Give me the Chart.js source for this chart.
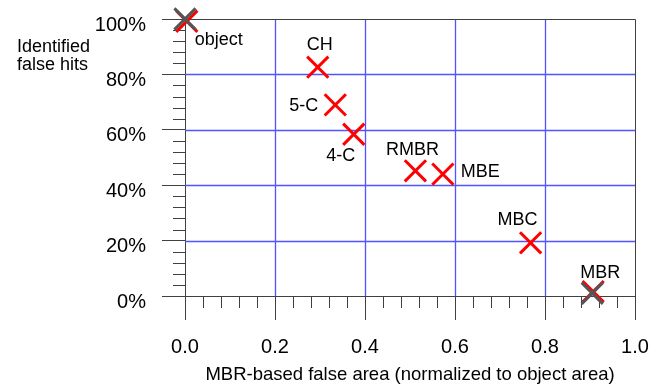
<!DOCTYPE html>
<html>
<head>
<meta charset="utf-8">
<script src="https://cdn.jsdelivr.net/npm/chart.js@4.4.1/dist/chart.umd.min.js"></script>
<style>
  html, body { margin: 0; background: #fff; }
  canvas { display: block; }
</style>
</head>
<body>
<canvas id="chart-hits" width="665" height="385"></canvas>
<script>
// ── Data ──────────────────────────────────────────────
const methods   = ['object', 'CH', '5-C', '4-C', 'RMBR', 'MBE', 'MBC', 'MBR'];
const falseArea = [0.004, 0.295, 0.334, 0.375, 0.512, 0.573, 0.768, 0.907];
const falseHits = [99.2, 82.6, 69.0, 58.4, 45.2, 44.0, 19.2, 1.6];

// grey reference marks (exact object / plain MBR)
const refArea = [0.0, 0.905];
const refHits = [100, 1.0];

const xTickLabels = ['0.0', '0.2', '0.4', '0.6', '0.8', '1.0'];
const yTickLabels = ['0%', '20%', '40%', '60%', '80%', '100%'];

// ── Styling ───────────────────────────────────────────
const FONT = '"Liberation Sans", Arial, sans-serif';
const AXIS = '#404040';
const GRID = '#5252ff';
const RED = '#ff0000';
const GREY = '#555555';

// label placement relative to each red mark: [dx, dy, align]
const labelPlace = [
  [8, 19, 'left'], [2, -22, 'center'], [-17, 1, 'right'], [-13, 22, 'center'],
  [-3, -21, 'center'], [18, -2, 'left'], [-13, -23, 'center'], [7, -19, 'center'],
];

// blue inner grid + dark frame + minor ticks, all from the chart's scales
const frame = {
  id: 'frame',
  beforeDatasetsDraw(chart) {
    const { ctx, scales: { x, y } } = chart;
    ctx.save();
    ctx.lineWidth = 1.3;
    ctx.strokeStyle = GRID;
    ctx.beginPath();
    x.ticks.forEach(t => {
      if (t.value <= 0 || t.value >= 1) return;
      const px = Math.round(x.getPixelForValue(t.value)) + 0.5;
      ctx.moveTo(px, y.top); ctx.lineTo(px, y.bottom);
    });
    y.ticks.forEach(t => {
      if (t.value <= 0 || t.value >= 100) return;
      const py = Math.round(y.getPixelForValue(t.value)) + 0.5;
      ctx.moveTo(x.left, py); ctx.lineTo(x.right, py);
    });
    ctx.stroke();

    ctx.lineWidth = 1;
    ctx.strokeStyle = AXIS;
    ctx.beginPath();
    const top = Math.round(y.top) + 0.5, right = Math.round(x.right) + 0.5;
    ctx.moveTo(x.left - 23, top); ctx.lineTo(right, top);
    ctx.moveTo(right, top); ctx.lineTo(right, y.bottom + 24);
    for (let i = 1; i < 25; i++) {
      if (i % 5 === 0) continue;
      const px = Math.round(x.getPixelForValue(i * 0.04)) + 0.5;
      ctx.moveTo(px, y.bottom); ctx.lineTo(px, y.bottom + 12);
      const py = Math.round(y.getPixelForValue(i * 4)) + 0.5;
      ctx.moveTo(x.left - 12, py); ctx.lineTo(x.left, py);
    }
    ctx.stroke();
    ctx.restore();
  },
};

const pointLabels = {
  id: 'pointLabels',
  afterDatasetsDraw(chart) {
    const { ctx } = chart;
    const pts = chart.getDatasetMeta(1).data;
    ctx.save();
    ctx.fillStyle = '#000';
    ctx.font = '18px ' + FONT;
    ctx.textBaseline = 'middle';
    methods.forEach((m, i) => {
      const [dx, dy, align] = labelPlace[i];
      ctx.textAlign = align;
      ctx.fillText(m, pts[i].x + dx, pts[i].y + dy);
    });
    // y axis title, two lines, horizontal
    ctx.textAlign = 'left';
    ctx.fillText('Identified', 17, 47);
    ctx.fillText('false hits', 17, 65);
    ctx.restore();
  },
};

new Chart(document.getElementById('chart-hits'), {
  type: 'scatter',
  data: {
    datasets: [
      {
        label: 'reference',
        data: refArea.map((v, i) => ({ x: v, y: refHits[i] })),
        pointStyle: 'crossRot', pointRadius: 15, pointBorderWidth: 3,
        borderColor: GREY, backgroundColor: GREY, clip: false,
      },
      {
        label: 'approximations',
        data: falseArea.map((v, i) => ({ x: v, y: falseHits[i] })),
        pointStyle: 'crossRot', pointRadius: 15, pointBorderWidth: 3,
        borderColor: RED, backgroundColor: RED, clip: false,
      },
    ],
  },
  options: {
    responsive: false, animation: false,
    layout: { padding: { top: 19, right: 30, left: 0, bottom: 0 } },
    plugins: { legend: { display: false }, tooltip: { enabled: false } },
    scales: {
      x: {
        type: 'linear', min: 0, max: 1,
        afterFit: s => { s.height = 89; s.paddingLeft = 0; s.paddingRight = 0; },
        ticks: {
          stepSize: 0.2, color: '#000', padding: 15,
          font: { family: FONT, size: 20 },
          callback: (v, i) => xTickLabels[i],
        },
        grid: { drawOnChartArea: false, tickColor: AXIS, tickLength: 24, lineWidth: 1 },
        border: { color: AXIS, width: 1 },
        title: {
          display: true, text: 'MBR-based false area (normalized to object area)',
          color: '#000', font: { family: FONT, size: 18.5 }, padding: { top: 0, bottom: -1.5 },
        },
      },
      y: {
        type: 'linear', min: 0, max: 100,
        afterFit: s => { s.width = 185; s.paddingTop = 0; s.paddingBottom = 0; },
        ticks: {
          stepSize: 20, color: '#000', padding: 16, labelOffset: 6,
          font: { family: FONT, size: 20 },
          callback: (v, i) => yTickLabels[i],
        },
        grid: { drawOnChartArea: false, tickColor: AXIS, tickLength: 23, lineWidth: 1 },
        border: { color: AXIS, width: 1 },
      },
    },
  },
  plugins: [frame, pointLabels],
});
</script>
</body>
</html>
